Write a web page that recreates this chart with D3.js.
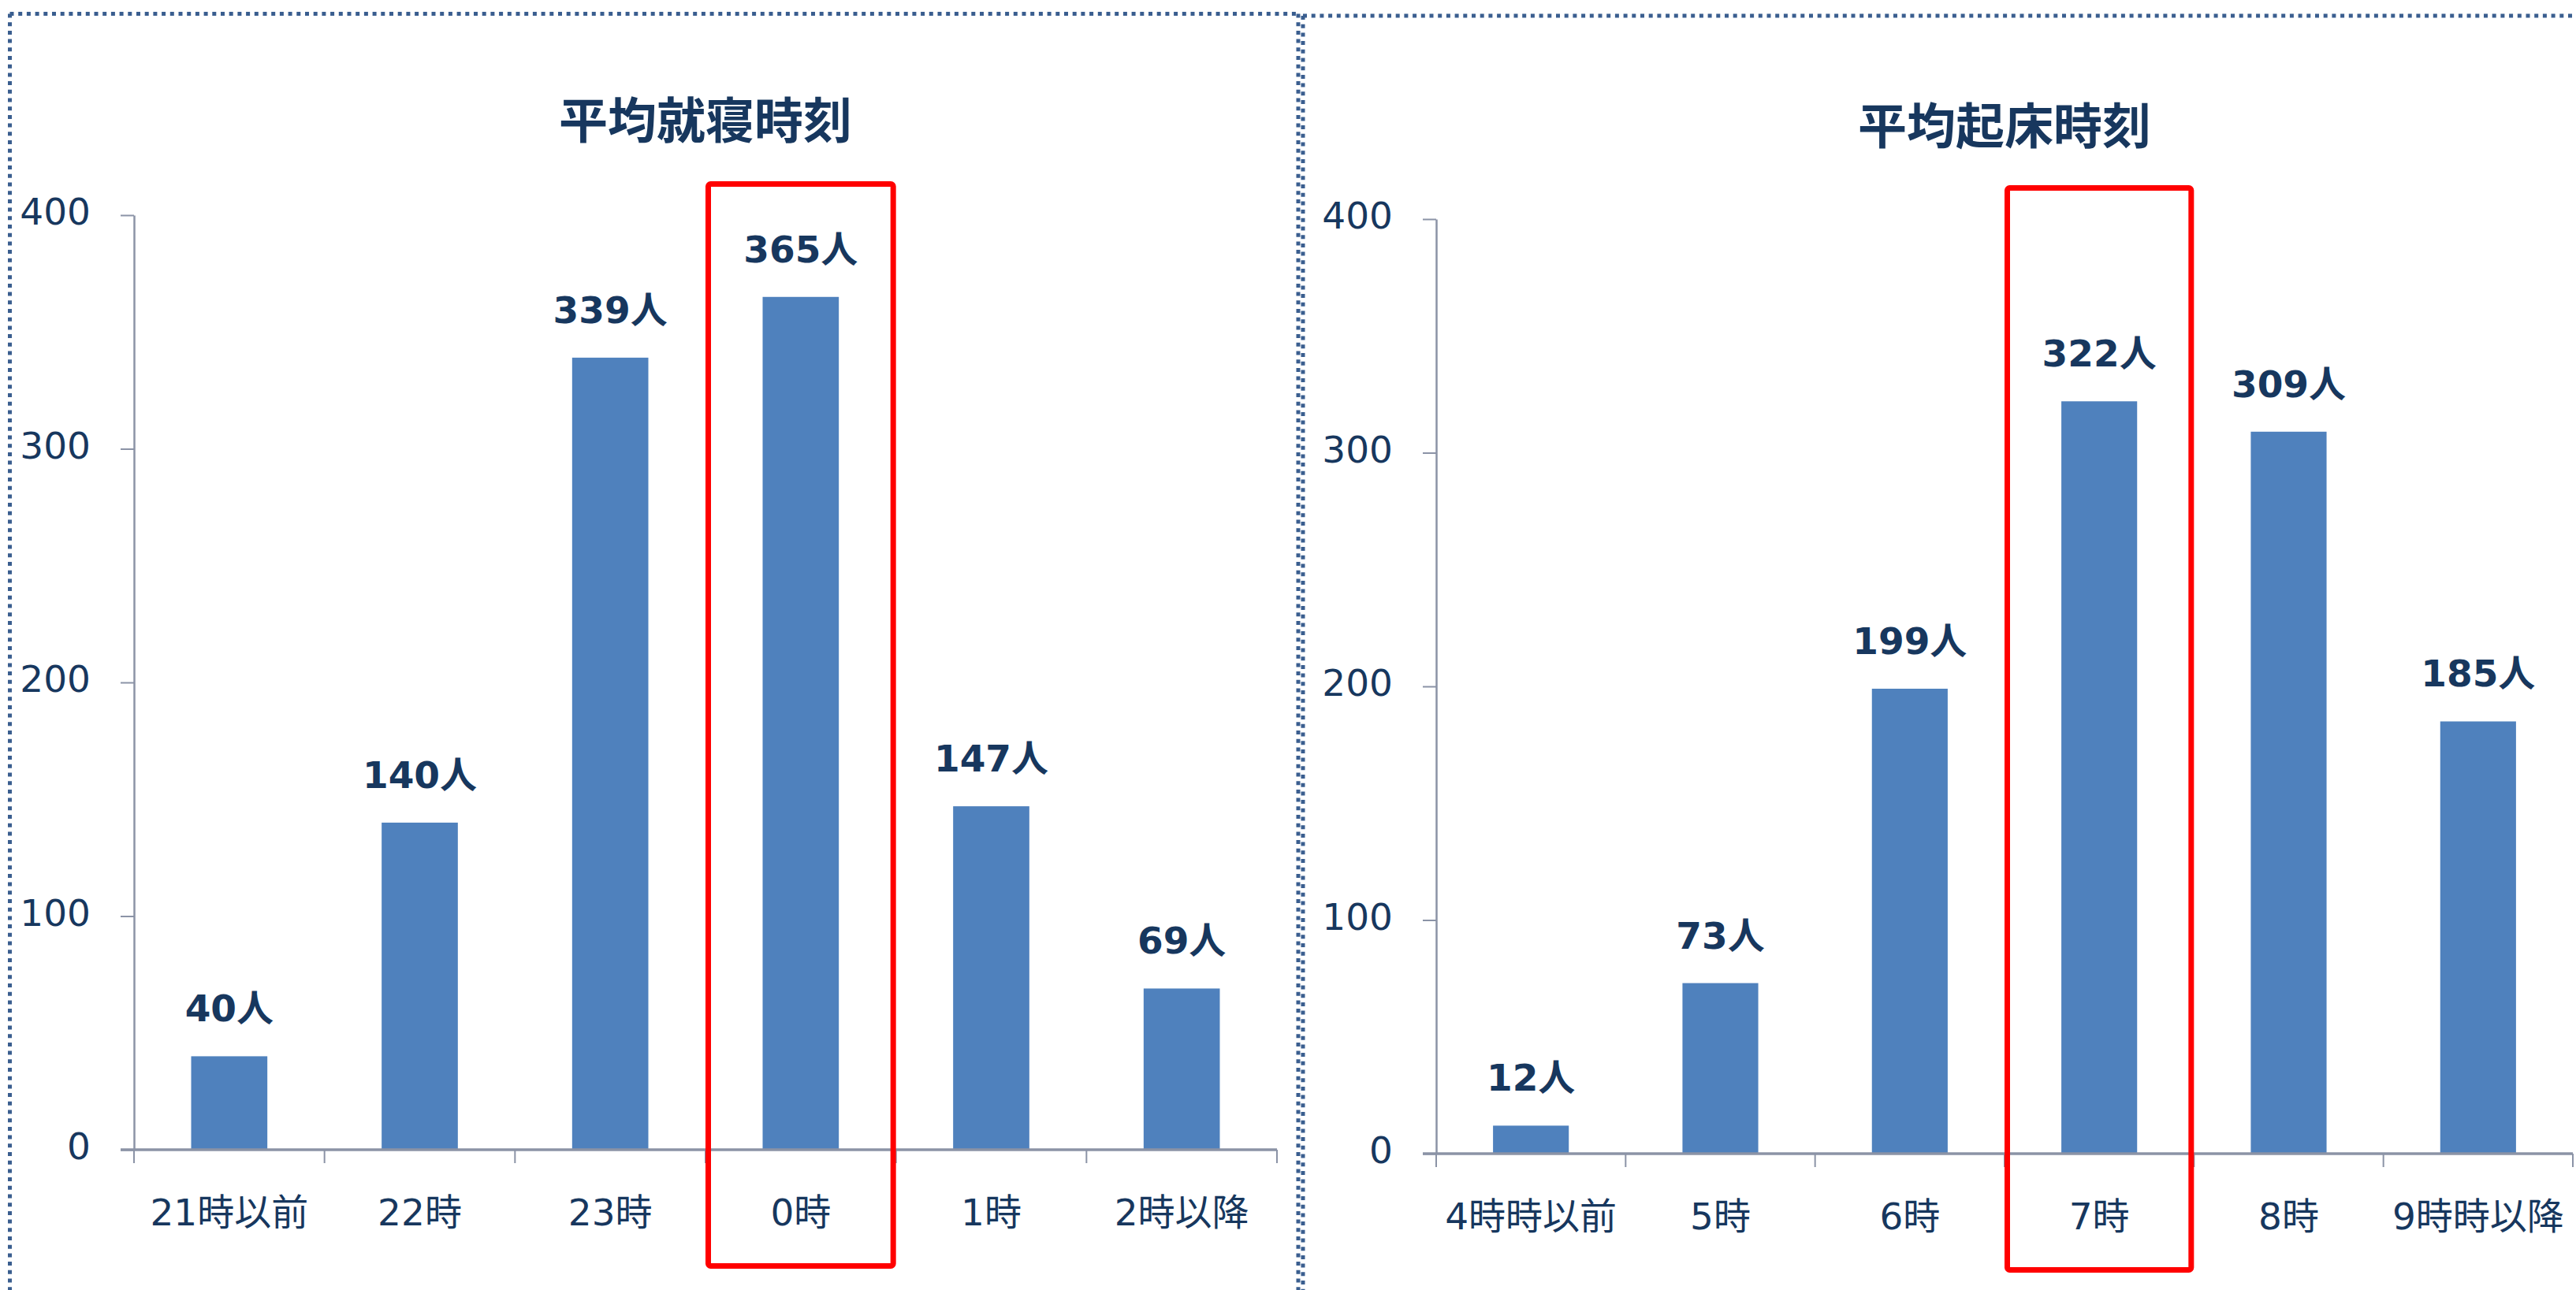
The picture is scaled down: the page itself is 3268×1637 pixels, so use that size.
<!DOCTYPE html>
<html>
<head>
<meta charset="utf-8">
<script src="https://cdn.jsdelivr.net/npm/d3@7"></script>
<style>
body { margin: 0; background: #fff; }
</style>
</head>
<body>
<div id="playground"></div>
<script>
// Data
var bedCategories = ['21時以前', '22時', '23時', '0時', '1時', '2時以降']
var bedValues = [40, 140, 339, 365, 147, 69]
var wakeCategories = ['4時時以前', '5時', '6時', '7時', '8時', '9時時以降']
var wakeValues = [12, 73, 199, 322, 309, 185]
var yTicks = [0, 100, 200, 300, 400]

var settings = {}
settings.width = 3268
settings.height = 1637
settings.text_color = '#17375e'
settings.bar_color = '#4f81bd'
settings.axis_color = '#8b93a6'
settings.border_color = '#3a5e8f'
settings.font = '"DejaVu Sans", "Noto Sans CJK JP", sans-serif'
settings.cjk_font = '"Noto Sans CJK JP", sans-serif'

var svg = d3.select('#playground').append('svg')
	.attr('width', settings.width)
	.attr('height', settings.height)

// Dotted panel borders
function border(x1, y1, x2, y2) {
	svg.append('line')
		.attr('x1', x1).attr('y1', y1)
		.attr('x2', x2).attr('y2', y2)
		.attr('stroke', settings.border_color)
		.attr('stroke-width', 5)
		.attr('stroke-dasharray', '5,5.7')
}
border(12.5, 17.5, 1648, 17.5)
border(12.5, 17.5, 12.5, 1637)
border(1647, 17.5, 1647, 1637)
border(1653, 20, 3268, 20)
border(1653, 20, 1653, 1637)

drawChart({
	title: '平均就寝時刻'
, categories: bedCategories
, values: bedValues
, highlight: '0時'
, left: 170, right: 1620, top: 273, bottom: 1459
, titleY: 176
})

drawChart({
	title: '平均起床時刻'
, categories: wakeCategories
, values: wakeValues
, highlight: '7時'
, left: 1822, right: 3264, top: 278, bottom: 1464
, titleY: 183
})

function drawChart(s) {
	var x = d3.scaleBand()
		.domain(s.categories)
		.range([s.left, s.right])
		.paddingInner(0)
	var y = d3.scaleLinear()
		.domain([0, 400])
		.range([s.bottom, s.top])
	var g = svg.append('g')

	// Title
	g.append('text')
		.attr('x', (s.left + s.right) / 2)
		.attr('y', s.titleY)
		.attr('text-anchor', 'middle')
		.attr('font-family', settings.cjk_font)
		.attr('font-weight', 'bold')
		.attr('font-size', 62)
		.attr('fill', settings.text_color)
		.text(s.title)

	// Y axis
	var yAxis = g.append('g')
		.attr('transform', 'translate(' + s.left + ',0)')
		.call(d3.axisLeft(y).tickValues(yTicks).tickSize(17).tickSizeOuter(0).tickPadding(38))
	yAxis.select('.domain').attr('stroke', settings.axis_color).attr('stroke-width', 2.5)
	yAxis.selectAll('.tick line').attr('stroke', settings.axis_color).attr('stroke-width', 2)
	yAxis.selectAll('.tick text')
		.attr('font-family', settings.font)
		.attr('font-size', 47)
		.attr('fill', settings.text_color)
		.attr('dy', '0.25em')

	// Bars
	var data = s.categories.map(function(c, i){ return {cat: c, val: s.values[i]} })
	var barW = x.bandwidth() * 0.4
	g.selectAll('rect.bar').data(data).enter().append('rect')
		.attr('class', 'bar')
		.attr('x', function(d){ return x(d.cat) + (x.bandwidth() - barW) / 2 })
		.attr('y', function(d){ return y(d.val) })
		.attr('width', barW)
		.attr('height', function(d){ return y(0) - y(d.val) })
		.attr('fill', settings.bar_color)

	// X axis line and ticks at band boundaries
	g.append('line')
		.attr('x1', s.left - 17).attr('x2', s.right)
		.attr('y1', y(0)).attr('y2', y(0))
		.attr('stroke', settings.axis_color)
		.attr('stroke-width', 3.5)
	var bounds = s.categories.map(function(c){ return x(c) }).concat([s.right])
	g.selectAll('line.xtick').data(bounds).enter().append('line')
		.attr('class', 'xtick')
		.attr('x1', function(d){ return d }).attr('x2', function(d){ return d })
		.attr('y1', y(0)).attr('y2', y(0) + 17)
		.attr('stroke', settings.axis_color)
		.attr('stroke-width', 2)

	// Category labels
	g.selectAll('text.cat').data(data).enter().append('text')
		.attr('class', 'cat')
		.attr('x', function(d){ return x(d.cat) + x.bandwidth() / 2 })
		.attr('y', y(0) + 96)
		.attr('text-anchor', 'middle')
		.attr('font-family', settings.font)
		.attr('font-size', 47)
		.attr('fill', settings.text_color)
		.text(function(d){ return d.cat })

	// Value labels
	g.selectAll('text.val').data(data).enter().append('text')
		.attr('class', 'val')
		.attr('x', function(d){ return x(d.cat) + x.bandwidth() / 2 })
		.attr('y', function(d){ return y(d.val) - 44 })
		.attr('text-anchor', 'middle')
		.attr('font-family', settings.font)
		.attr('font-weight', 'bold')
		.attr('font-size', 47)
		.attr('fill', settings.text_color)
		.text(function(d){ return d.val + '人' })

	// Red highlight box
	g.append('rect')
		.attr('x', x(s.highlight) + 3.5)
		.attr('y', y(400) - 39.5)
		.attr('width', x.bandwidth() - 7)
		.attr('height', (y(0) + 147.5) - (y(400) - 39.5))
		.attr('rx', 3)
		.attr('fill', 'none')
		.attr('stroke', '#ff0000')
		.attr('stroke-width', 7)
}
</script>
</body>
</html>
